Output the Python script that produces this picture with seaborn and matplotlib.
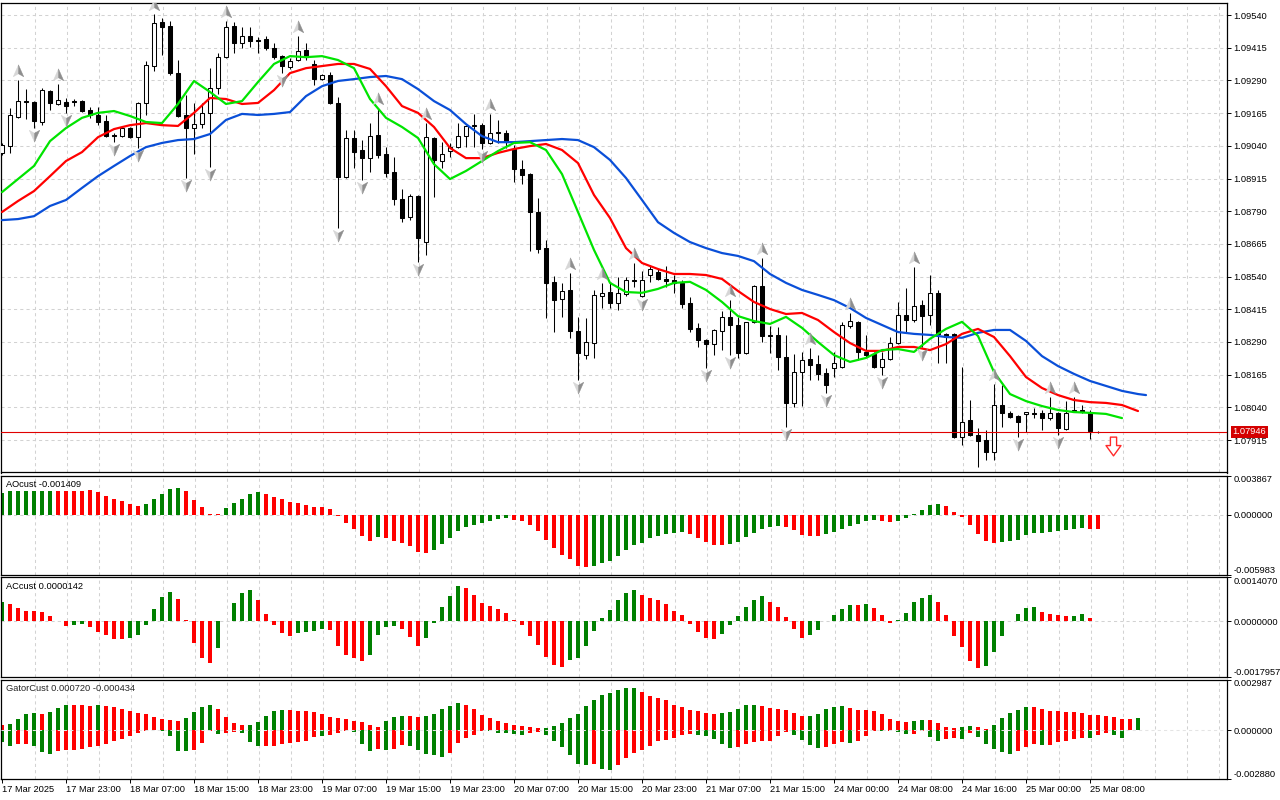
import matplotlib
matplotlib.use("Agg")
import matplotlib.pyplot as plt
import seaborn as sns
import numpy as np
from matplotlib.path import Path
from matplotlib.markers import MarkerStyle
from matplotlib.transforms import offset_copy, blended_transform_factory

# ---------------- data (EURUSD H1) ----------------
opens = [1.09013, 1.09039, 1.09150, 1.09211, 1.09207, 1.09131, 1.09249, 1.09200, 1.09207, 1.09211,
         1.09211, 1.09177, 1.09158, 1.09135, 1.09081, 1.09077, 1.09108, 1.09073, 1.09204, 1.09345,
         1.09513, 1.09498, 1.09318, 1.09158, 1.09108, 1.09123, 1.09166, 1.09261, 1.09379, 1.09498,
         1.09433, 1.09460, 1.09444, 1.09448, 1.09414, 1.09383, 1.09341, 1.09368, 1.09406, 1.09352,
         1.09295, 1.09311, 1.09204, 1.08921, 1.09070, 1.09024, 1.08993, 1.09081, 1.09009, 1.08940,
         1.08837, 1.08768, 1.08848, 1.08672, 1.09070, 1.08982, 1.09020, 1.09035, 1.09077, 1.09115,
         1.09119, 1.09051, 1.09093, 1.09089, 1.09028, 1.08951, 1.08932, 1.08787, 1.08649, 1.08520,
         1.08454, 1.08489, 1.08332, 1.08240, 1.08286, 1.08466, 1.08481, 1.08439, 1.08473, 1.08527,
         1.08466, 1.08546, 1.08557, 1.08531, 1.08527, 1.08516, 1.08439, 1.08344, 1.08298, 1.08282,
         1.08332, 1.08386, 1.08355, 1.08248, 1.08367, 1.08504, 1.08317, 1.08317, 1.08233, 1.08057,
         1.08175, 1.08225, 1.08206, 1.08171, 1.08191, 1.08194, 1.08351, 1.08367, 1.08252, 1.08244,
         1.08194, 1.08225, 1.08286, 1.08393, 1.08374, 1.08431, 1.08393, 1.08477, 1.08321, 1.08321,
         1.07927, 1.07992, 1.07935, 1.07915, 1.07870, 1.08049, 1.08019, 1.08007, 1.08015, 1.08019,
         1.08019, 1.07999, 1.08019, 1.07958, 1.08030, 1.08030, 1.08022, 1.07946]
highs = [1.09051, 1.09185, 1.09291, 1.09257, 1.09211, 1.09261, 1.09253, 1.09276, 1.09223, 1.09219,
         1.09215, 1.09188, 1.09188, 1.09158, 1.09089, 1.09112, 1.09112, 1.09207, 1.09364, 1.09544,
         1.09529, 1.09517, 1.09368, 1.09234, 1.09204, 1.09204, 1.09337, 1.09394, 1.09517, 1.09513,
         1.09494, 1.09494, 1.09456, 1.09460, 1.09433, 1.09387, 1.09375, 1.09460, 1.09433, 1.09368,
         1.09314, 1.09322, 1.09227, 1.09100, 1.09100, 1.09062, 1.09127, 1.09185, 1.09035, 1.08997,
         1.08875, 1.08856, 1.08852, 1.09127, 1.09073, 1.09054, 1.09051, 1.09127, 1.09119, 1.09162,
         1.09127, 1.09162, 1.09139, 1.09100, 1.09043, 1.08986, 1.08936, 1.08841, 1.08680, 1.08542,
         1.08516, 1.08554, 1.08386, 1.08382, 1.08489, 1.08516, 1.08516, 1.08539, 1.08539, 1.08592,
         1.08561, 1.08584, 1.08569, 1.08580, 1.08546, 1.08527, 1.08462, 1.08363, 1.08302, 1.08340,
         1.08408, 1.08450, 1.08386, 1.08367, 1.08508, 1.08611, 1.08351, 1.08347, 1.08317, 1.08244,
         1.08252, 1.08267, 1.08240, 1.08191, 1.08252, 1.08367, 1.08401, 1.08370, 1.08317, 1.08252,
         1.08252, 1.08309, 1.08443, 1.08496, 1.08577, 1.08450, 1.08546, 1.08489, 1.08325, 1.08325,
         1.08194, 1.08068, 1.07962, 1.07954, 1.08130, 1.08126, 1.08026, 1.08011, 1.08022, 1.08038,
         1.08030, 1.08080, 1.08022, 1.08064, 1.08080, 1.08049, 1.08030, 1.07950]
lows = [1.09005, 1.09013, 1.09147, 1.09143, 1.09108, 1.09119, 1.09177, 1.09196, 1.09166, 1.09192,
        1.09169, 1.09147, 1.09119, 1.09073, 1.09054, 1.09073, 1.09070, 1.09032, 1.09158, 1.09326,
        1.09387, 1.09311, 1.09150, 1.08917, 1.09009, 1.09108, 1.08959, 1.09238, 1.09375, 1.09395,
        1.09414, 1.09418, 1.09395, 1.09406, 1.09372, 1.09318, 1.09334, 1.09364, 1.09368, 1.09272,
        1.09291, 1.09200, 1.08726, 1.08917, 1.08955, 1.08909, 1.08940, 1.08993, 1.08921, 1.08814,
        1.08748, 1.08756, 1.08595, 1.08622, 1.08844, 1.08955, 1.08997, 1.09032, 1.09035, 1.09035,
        1.09028, 1.09047, 1.09051, 1.09032, 1.08902, 1.08894, 1.08638, 1.08630, 1.08382, 1.08328,
        1.08386, 1.08306, 1.08145, 1.08225, 1.08229, 1.08420, 1.08420, 1.08412, 1.08466, 1.08501,
        1.08462, 1.08520, 1.08527, 1.08501, 1.08477, 1.08420, 1.08328, 1.08271, 1.08191, 1.08240,
        1.08259, 1.08240, 1.08229, 1.08244, 1.08363, 1.08290, 1.08248, 1.08183, 1.07965, 1.08042,
        1.08045, 1.08145, 1.08145, 1.08095, 1.08156, 1.08191, 1.08344, 1.08221, 1.08233, 1.08191,
        1.08164, 1.08221, 1.08282, 1.08328, 1.08367, 1.08271, 1.08355, 1.08210, 1.08210, 1.07923,
        1.07896, 1.07931, 1.07812, 1.07839, 1.07839, 1.07965, 1.07999, 1.07927, 1.07946, 1.07999,
        1.07954, 1.07992, 1.07935, 1.07954, 1.08022, 1.08019, 1.07919, 1.07942]
closes = [1.09043, 1.09158, 1.09211, 1.09207, 1.09135, 1.09253, 1.09204, 1.09215, 1.09192, 1.09207,
          1.09173, 1.09158, 1.09131, 1.09077, 1.09077, 1.09108, 1.09073, 1.09204, 1.09349, 1.09510,
          1.09494, 1.09318, 1.09154, 1.09108, 1.09123, 1.09166, 1.09261, 1.09379, 1.09494, 1.09433,
          1.09460, 1.09440, 1.09440, 1.09414, 1.09379, 1.09345, 1.09364, 1.09402, 1.09379, 1.09295,
          1.09311, 1.09204, 1.08921, 1.09070, 1.09016, 1.08993, 1.09077, 1.09005, 1.08936, 1.08837,
          1.08764, 1.08848, 1.08688, 1.09073, 1.08986, 1.09009, 1.09035, 1.09077, 1.09115, 1.09119,
          1.09051, 1.09089, 1.09089, 1.09054, 1.08951, 1.08928, 1.08787, 1.08645, 1.08516, 1.08450,
          1.08485, 1.08332, 1.08248, 1.08290, 1.08470, 1.08477, 1.08439, 1.08477, 1.08527, 1.08523,
          1.08527, 1.08569, 1.08531, 1.08523, 1.08516, 1.08435, 1.08340, 1.08298, 1.08282, 1.08336,
          1.08386, 1.08355, 1.08248, 1.08367, 1.08504, 1.08313, 1.08313, 1.08233, 1.08057, 1.08175,
          1.08221, 1.08202, 1.08168, 1.08126, 1.08210, 1.08355, 1.08370, 1.08252, 1.08240, 1.08194,
          1.08225, 1.08286, 1.08393, 1.08374, 1.08427, 1.08389, 1.08477, 1.08321, 1.08309, 1.07927,
          1.07984, 1.07935, 1.07912, 1.07870, 1.08049, 1.08019, 1.08003, 1.07984, 1.08022, 1.08015,
          1.07999, 1.08019, 1.07962, 1.08019, 1.08022, 1.08022, 1.07950, 1.07946]

# Alligator lines, read every second bar (jaw / teeth / lips)
jaw_bars = list(range(0, 143, 2)) + [143]
jaw = [1.08756, 1.08760, 1.08771, 1.08810, 1.08833, 1.08879, 1.08924, 1.08963, 1.09001, 1.09035,
       1.09051, 1.09062, 1.09066, 1.09085, 1.09139, 1.09162, 1.09158, 1.09162, 1.09169, 1.09230,
       1.09268, 1.09288, 1.09295, 1.09303, 1.09307, 1.09295, 1.09257, 1.09211, 1.09177, 1.09123,
       1.09077, 1.09054, 1.09054, 1.09058, 1.09062, 1.09066, 1.09062, 1.09035, 1.08986, 1.08917,
       1.08833, 1.08748, 1.08707, 1.08672, 1.08649, 1.08630, 1.08619, 1.08599, 1.08550, 1.08516,
       1.08489, 1.08470, 1.08450, 1.08420, 1.08382, 1.08355, 1.08328, 1.08321, 1.08317, 1.08309,
       1.08306, 1.08325, 1.08336, 1.08336, 1.08294, 1.08236, 1.08198, 1.08168, 1.08141, 1.08122,
       1.08103, 1.08091, 1.08087]
teeth_bars = list(range(0, 143, 2))
teeth = [1.08787, 1.08829, 1.08867, 1.08924, 1.08982, 1.09016, 1.09073, 1.09104, 1.09119, 1.09127,
         1.09119, 1.09116, 1.09166, 1.09223, 1.09219, 1.09200, 1.09204, 1.09253, 1.09318, 1.09337,
         1.09345, 1.09353, 1.09353, 1.09334, 1.09268, 1.09192, 1.09166, 1.09112, 1.09032, 1.08993,
         1.08993, 1.09013, 1.09028, 1.09039, 1.09047, 1.09024, 1.08974, 1.08852, 1.08764, 1.08649,
         1.08592, 1.08569, 1.08550, 1.08550, 1.08546, 1.08531, 1.08485, 1.08443, 1.08416, 1.08397,
         1.08401, 1.08374, 1.08328, 1.08286, 1.08256, 1.08256, 1.08271, 1.08271, 1.08259, 1.08282,
         1.08321, 1.08340, 1.08309, 1.08236, 1.08156, 1.08114, 1.08087, 1.08068, 1.08060, 1.08057,
         1.08049, 1.08026]
lips_bars = list(range(0, 141, 2))
lips = [1.08863, 1.08913, 1.08963, 1.09058, 1.09108, 1.09147, 1.09166, 1.09173, 1.09154, 1.09131,
        1.09127, 1.09200, 1.09288, 1.09246, 1.09200, 1.09211, 1.09284, 1.09353, 1.09383, 1.09379,
        1.09383, 1.09368, 1.09337, 1.09219, 1.09147, 1.09112, 1.09070, 1.08970, 1.08913, 1.08944,
        1.08982, 1.09020, 1.09051, 1.09054, 1.09024, 1.08932, 1.08787, 1.08642, 1.08516, 1.08481,
        1.08478, 1.08493, 1.08516, 1.08520, 1.08489, 1.08443, 1.08389, 1.08370, 1.08359, 1.08386,
        1.08344, 1.08290, 1.08240, 1.08214, 1.08229, 1.08259, 1.08263, 1.08252, 1.08302, 1.08340,
        1.08367, 1.08313, 1.08175, 1.08091, 1.08064, 1.08045, 1.08030, 1.08022, 1.08019, 1.08015,
        1.07999]

fractal_up_bars = [2, 7, 19, 28, 37, 47, 53, 61, 71, 75, 79, 91, 95, 101, 106, 114, 124, 131, 134]
fractal_down_bars = [4, 8, 14, 17, 23, 26, 35, 42, 45, 52, 60, 72, 80, 88, 91, 98, 103, 110, 115, 127, 132]
sell_signal_bar = [138.9]
sell_signal_price = [1.07892]
current_price = 1.07946

price_ticks = [1.09540, 1.09415, 1.09290, 1.09165, 1.09040, 1.08915, 1.08790,
               1.08665, 1.08540, 1.08415, 1.08290, 1.08165, 1.08040, 1.07915]

ao = [0.00215, 0.00238, 0.00238, 0.00238, 0.00238, 0.00238, 0.00238, 0.00238, 0.00238, 0.00238,
      0.00238, 0.00240, 0.00222, 0.00189, 0.00159, 0.00132, 0.00106, 0.00089, 0.00109, 0.00159,
      0.00209, 0.00258, 0.00265, 0.00238, 0.00149, 0.00079, 0.00010, 0.00009, 0.00070, 0.00119,
      0.00159, 0.00209, 0.00222, 0.00209, 0.00179, 0.00159, 0.00129, 0.00119, 0.00099, 0.00079,
      0.00078, 0.00060, -0.00017, -0.00086, -0.00146, -0.00209, -0.00255, -0.00225, -0.00232, -0.00255,
      -0.00275, -0.00314, -0.00364, -0.00374, -0.00344, -0.00285, -0.00235, -0.00166, -0.00126, -0.00106,
      -0.00086, -0.00066, -0.00046, -0.00036, -0.00056, -0.00066, -0.00106, -0.00166, -0.00245, -0.00324,
      -0.00394, -0.00434, -0.00503, -0.00513, -0.00503, -0.00473, -0.00453, -0.00404, -0.00344, -0.00295,
      -0.00275, -0.00235, -0.00209, -0.00189, -0.00185, -0.00175, -0.00195, -0.00235, -0.00265, -0.00295,
      -0.00296, -0.00285, -0.00265, -0.00225, -0.00185, -0.00146, -0.00126, -0.00116, -0.00126, -0.00156,
      -0.00205, -0.00206, -0.00207, -0.00195, -0.00175, -0.00146, -0.00116, -0.00096, -0.00066, -0.00056,
      -0.00066, -0.00076, -0.00066, -0.00036, 0.00007, 0.00050, 0.00099, 0.00109, 0.00089, 0.00030,
      -0.00026, -0.00106, -0.00195, -0.00255, -0.00275, -0.00265, -0.00255, -0.00245, -0.00205, -0.00185,
      -0.00184, -0.00175, -0.00166, -0.00152, -0.00146, -0.00136, -0.00137, -0.001409]
ao_color_runs = [("g", 7), ("r", 11), ("g", 5), ("r", 5), ("g", 5), ("r", 14), ("g", 1), ("r", 6),
                 ("g", 10), ("r", 10), ("g", 12), ("r", 5), ("g", 7), ("r", 5), ("g", 7), ("r", 2),
                 ("g", 6), ("r", 7), ("g", 11), ("r", 2)]

ac = [0.00060, 0.00055, 0.00042, 0.00033, 0.00032, 0.00029, 0.00016, -0.00001, -0.00015, -0.00012,
      -0.00011, -0.00018, -0.00034, -0.00044, -0.00057, -0.00058, -0.00053, -0.00044, -0.00012, 0.00039,
      0.00077, 0.00093, 0.00071, 0.00003, -0.00071, -0.00118, -0.00134, -0.00086, 0.00001, 0.00058,
      0.00090, 0.00100, 0.00068, 0.00023, -0.00012, -0.00038, -0.00047, -0.00038, -0.00034, -0.00033,
      -0.00025, -0.00028, -0.00079, -0.00108, -0.00118, -0.00128, -0.00108, -0.00044, -0.00018, -0.00015,
      -0.00025, -0.00050, -0.00079, -0.00054, -0.00005, 0.00045, 0.00081, 0.00113, 0.00106, 0.00084,
      0.00058, 0.00048, 0.00039, 0.00026, 0.00003, -0.00012, -0.00047, -0.00076, -0.00115, -0.00141,
      -0.00147, -0.00125, -0.00118, -0.00079, -0.00031, 0.00010, 0.00035, 0.00068, 0.00090, 0.00100,
      0.00084, 0.00074, 0.00068, 0.00055, 0.00032, 0.00019, -0.00009, -0.00034, -0.00054, -0.00057,
      -0.00041, -0.00012, 0.00016, 0.00045, 0.00068, 0.00081, 0.00061, 0.00045, 0.00013, -0.00025,
      -0.00054, -0.00044, -0.00028, 0.00001, 0.00019, 0.00039, 0.00052, 0.00051, 0.00055, 0.00042,
      0.00019, -0.00005, 0.00003, 0.00026, 0.00061, 0.00074, 0.00084, 0.00061, 0.00019, -0.00047,
      -0.00083, -0.00128, -0.00150, -0.00144, -0.00099, -0.00047, 0.00000, 0.00023, 0.00042, 0.00045,
      0.00029, 0.00023, 0.00019, 0.00016, 0.00017, 0.00023, 0.00010, 0.0000142]
ac_color_runs = [("g", 1), ("r", 8), ("g", 2), ("r", 5), ("g", 6), ("r", 5), ("g", 5), ("r", 5),
                 ("g", 4), ("r", 5), ("g", 4), ("r", 3), ("g", 5), ("r", 13), ("g", 9), ("r", 10),
                 ("g", 6), ("r", 5), ("g", 6), ("r", 1), ("g", 1), ("r", 3), ("g", 5), ("r", 6),
                 ("g", 7), ("r", 4), ("g", 2), ("r", 2)]

gator_up = [0.00032, 0.00035, 0.00065, 0.00097, 0.00100, 0.00095, 0.00106, 0.00130, 0.00148, 0.00147,
            0.00146, 0.00145, 0.00146, 0.00142, 0.00136, 0.00124, 0.00112, 0.00100, 0.00095, 0.00077,
            0.00065, 0.00059, 0.00053, 0.00071, 0.00106, 0.00136, 0.00148, 0.00124, 0.00077, 0.00043,
            0.00030, 0.00031, 0.00047, 0.00083, 0.00112, 0.00118, 0.00117, 0.00112, 0.00111, 0.00106,
            0.00095, 0.00077, 0.00071, 0.00065, 0.00053, 0.00047, 0.00032, 0.00018, 0.00053, 0.00077,
            0.00083, 0.00082, 0.00077, 0.00083, 0.00095, 0.00124, 0.00142, 0.00160, 0.00148, 0.00124,
            0.00089, 0.00071, 0.00053, 0.00041, 0.00030, 0.00024, 0.00018, 0.00012, 0.00013, 0.00024,
            0.00041, 0.00071, 0.00095, 0.00142, 0.00177, 0.00207, 0.00219, 0.00236, 0.00248, 0.00249,
            0.00225, 0.00201, 0.00189, 0.00177, 0.00148, 0.00136, 0.00118, 0.00112, 0.00100, 0.00095,
            0.00100, 0.00106, 0.00124, 0.00148, 0.00149, 0.00142, 0.00130, 0.00124, 0.00118, 0.00100,
            0.00083, 0.00084, 0.00095, 0.00124, 0.00136, 0.00142, 0.00130, 0.00118, 0.00117, 0.00112,
            0.00095, 0.00065, 0.00053, 0.00047, 0.00053, 0.00059, 0.00058, 0.00041, 0.00018, 0.00012,
            0.00018, 0.00024, 0.00018, 0.00006, 0.00030, 0.00071, 0.00100, 0.00118, 0.00136, 0.00135,
            0.00124, 0.00112, 0.00111, 0.00110, 0.00106, 0.00100, 0.00089, 0.00088, 0.00083, 0.00077,
            0.00065, 0.00064, 0.00072]
gator_up_color_runs = [("r", 1), ("g", 4), ("r", 1), ("g", 3), ("r", 3), ("g", 1), ("r", 10), ("g", 4),
                       ("r", 4), ("g", 5), ("r", 12), ("g", 3), ("r", 2), ("g", 5), ("r", 10), ("g", 12),
                       ("r", 10), ("g", 5), ("r", 6), ("g", 5), ("r", 8), ("g", 2), ("r", 4), ("g", 2),
                       ("r", 2), ("g", 5), ("r", 13), ("g", 1)]
gator_dn = [-0.00069, -0.00093, -0.00081, -0.00080, -0.00093, -0.00128, -0.00140, -0.00122, -0.00116, -0.00115,
            -0.00114, -0.00098, -0.00093, -0.00081, -0.00063, -0.00051, -0.00033, -0.00016, -0.00004, -0.00002,
            -0.00006, -0.00033, -0.00122, -0.00123, -0.00116, -0.00075, -0.00004, -0.00022, -0.00016, -0.00010,
            -0.00016, -0.00069, -0.00093, -0.00092, -0.00091, -0.00081, -0.00075, -0.00069, -0.00063, -0.00039,
            -0.00033, -0.00028, -0.00016, -0.00004, -0.00010, -0.00081, -0.00122, -0.00112, -0.00116, -0.00110,
            -0.00087, -0.00093, -0.00116, -0.00140, -0.00146, -0.00158, -0.00134, -0.00075, -0.00045, -0.00028,
            -0.00004, -0.00005, -0.00016, -0.00016, -0.00022, -0.00028, -0.00016, -0.00010, -0.00028, -0.00063,
            -0.00098, -0.00146, -0.00199, -0.00205, -0.00199, -0.00228, -0.00234, -0.00205, -0.00163, -0.00134,
            -0.00116, -0.00093, -0.00063, -0.00057, -0.00045, -0.00028, -0.00022, -0.00028, -0.00033, -0.00051,
            -0.00081, -0.00104, -0.00098, -0.00081, -0.00069, -0.00063, -0.00062, -0.00033, -0.00010, -0.00028,
            -0.00057, -0.00087, -0.00104, -0.00098, -0.00081, -0.00069, -0.00075, -0.00063, -0.00033, -0.00004,
            -0.00005, -0.00004, -0.00010, -0.00022, -0.00021, -0.00004, -0.00039, -0.00063, -0.00051, -0.00045,
            -0.00051, -0.00016, -0.00039, -0.00081, -0.00110, -0.00128, -0.00140, -0.00122, -0.00098, -0.00081,
            -0.00087, -0.00086, -0.00069, -0.00063, -0.00051, -0.00045, -0.00046, -0.00028, -0.00016, -0.00028,
            -0.000434]
gator_dn_color_runs = [("g", 2), ("r", 2), ("g", 3), ("r", 13), ("g", 4), ("r", 3), ("g", 1), ("r", 2),
                       ("g", 3), ("r", 7), ("g", 1), ("r", 3), ("g", 3), ("r", 1), ("g", 1), ("r", 2),
                       ("g", 5), ("r", 5), ("g", 5), ("r", 2), ("g", 6), ("r", 1), ("g", 2), ("r", 10),
                       ("g", 5), ("r", 7), ("g", 4), ("r", 3), ("g", 1), ("r", 3), ("g", 1), ("r", 1),
                       ("g", 2), ("r", 2), ("g", 2), ("r", 2), ("g", 1), ("r", 1), ("g", 5), ("r", 3),
                       ("g", 1), ("r", 5), ("g", 1), ("r", 2), ("g", 2)]

ao_range = (-0.005983, 0.003867)
ac_range = (-0.0017957, 0.0014070)
gator_range = (-0.002880, 0.002987)

date_bars = [0, 8, 16, 24, 32, 40, 48, 56, 64, 72, 80, 88, 96, 104, 112, 120, 128, 136]
date_labels = ["17 Mar 2025", "17 Mar 23:00", "18 Mar 07:00", "18 Mar 15:00", "18 Mar 23:00",
               "19 Mar 07:00", "19 Mar 15:00", "19 Mar 23:00", "20 Mar 07:00", "20 Mar 15:00",
               "20 Mar 23:00", "21 Mar 07:00", "21 Mar 15:00", "24 Mar 00:00", "24 Mar 08:00",
               "24 Mar 16:00", "25 Mar 00:00", "25 Mar 08:00"]

# ---------------- style ----------------
sns.set_theme(style="white")
plt.rcParams['font.family'] = ['Liberation Sans', 'DejaVu Sans']
FS = 6.7
GREEN, RED = '#008000', '#ff0000'
GRID = '#d2d2d2'
DASH = (0, (3, 3))


def expand(runs):
    return [GREEN if c == "g" else RED for c, k in runs for _ in range(k)]


fig = plt.figure(figsize=(12.8, 8), dpi=100)
W, H = 1280.0, 800.0


def rect(l, t, r, b):
    return [l / W, 1 - b / H, (r - l) / W, (b - t) / H]


ax = fig.add_axes(rect(1, 2.5, 1227, 472.5))
ax_ao = fig.add_axes(rect(1, 475.5, 1227, 575.3))
ax_ac = fig.add_axes(rect(1, 577.3, 1227, 676.9))
ax_gt = fig.add_axes(rect(1, 679.5, 1227, 779))

XL = (-0.125, 153.125)
for a in (ax, ax_ao, ax_ac, ax_gt):
    a.set_facecolor('white')
    for s in a.spines.values():
        s.set_color('black')
        s.set_linewidth(0.9)
    for k in range(4, 153, 4):
        a.axvline(k + 0.1, color=GRID, lw=0.75, ls=DASH, zorder=0)
    a.yaxis.tick_right()
    a.tick_params(axis='y', which='both', direction='out', length=3, width=0.7,
                  pad=1.5, labelsize=FS, colors='black', right=True, left=False)
    a.tick_params(axis='x', bottom=False, labelbottom=False)
    a.grid(False)

# ---------------- main price chart ----------------
n = len(opens)
xb = np.arange(n)
o = np.array(opens); c = np.array(closes); hi = np.array(highs); lo = np.array(lows)
for p in price_ticks:
    ax.axhline(p, color=GRID, lw=0.75, ls=DASH, zorder=0)

ax.vlines(xb, lo, hi, color='black', lw=0.75, zorder=2)
bull = c > o
ax.bar(xb, np.maximum(np.abs(c - o), 0.000004), bottom=np.minimum(o, c), width=0.56,
       color=np.where(bull, 'white', 'black'), edgecolor='black', linewidth=0.75, zorder=3)

sns.lineplot(x=jaw_bars, y=jaw, ax=ax, color='#0a4fd8', linewidth=1.6, zorder=4, legend=False)
sns.lineplot(x=teeth_bars, y=teeth, ax=ax, color='#ff0000', linewidth=1.6, zorder=4, legend=False)
sns.lineplot(x=lips_bars, y=lips, ax=ax, color='#00e400', linewidth=1.6, zorder=4, legend=False)

# fractal arrows (two-tone arrowheads)
C = [Path.MOVETO, Path.LINETO, Path.LINETO, Path.CLOSEPOLY]
up_left = Path([(0, 1), (0, -0.35), (-0.8, -0.8), (0, 1)], C)
up_right = Path([(0, 1), (0.8, -0.8), (0, -0.35), (0, 1)], C)
dn_left = Path([(0, -1), (0, 0.35), (-0.8, 0.8), (0, -1)], C)
dn_right = Path([(0, -1), (0.8, 0.8), (0, 0.35), (0, -1)], C)
tr_up = offset_copy(ax.transData, fig=fig, x=0, y=9, units='dots')
tr_dn = offset_copy(ax.transData, fig=fig, x=0, y=-7, units='dots')
fu = np.array(fractal_up_bars); fd = np.array(fractal_down_bars)
for pth, col in ((up_left, '#d6d6d6'), (up_right, '#8e8e8e')):
    ax.plot(fu, hi[fu], ls='none', marker=MarkerStyle(pth), ms=9.5, mfc=col, mec=col,
            mew=0.3, transform=tr_up, zorder=5)
for pth, col in ((dn_left, '#d6d6d6'), (dn_right, '#8e8e8e')):
    ax.plot(fd, lo[fd], ls='none', marker=MarkerStyle(pth), ms=9.5, mfc=col, mec=col,
            mew=0.3, transform=tr_dn, zorder=5)

# current price line + label
ax.axhline(current_price, color='#e00000', lw=0.8, zorder=3)
btr = blended_transform_factory(ax.transAxes, ax.transData)
ax.text(1.0043, current_price, f"{current_price:.5f}", transform=btr, ha='left', va='center',
        fontsize=FS, color='white', zorder=10, clip_on=False,
        bbox=dict(boxstyle='square,pad=0.18', fc='#d40000', ec='none'))

# sell signal arrow (hollow red)
sell_path = Path([(-0.33, 1), (0.33, 1), (0.33, 0.1), (0.8, 0.1), (0, -1), (-0.8, 0.1),
                  (-0.33, 0.1), (-0.33, 1)],
                 [Path.MOVETO] + [Path.LINETO] * 6 + [Path.CLOSEPOLY])
ax.plot(sell_signal_bar, sell_signal_price, ls='none', marker=MarkerStyle(sell_path), ms=13.5,
        mfc='white', mec='#ff2a2a', mew=1.0, zorder=6)

ax.set_xlim(*XL)
ax.set_ylim(1.07791, 1.09588)
ax.set_yticks(price_ticks)
ax.set_yticklabels([f"{p:.5f}" for p in price_ticks])
ax.set_xlabel(''); ax.set_ylabel('')

# ---------------- indicator panels ----------------
def panel(a, values, colors, rng, fmt, title, zero_top=False):
    idx = np.arange(len(values))
    a.bar(idx, values, width=0.5, color=colors, linewidth=0, zorder=2)
    a.axhline(0, color='#dcdcdc' if zero_top else GRID, lw=0.75, ls=DASH,
              zorder=3 if zero_top else 1)
    a.set_xlim(*XL)
    a.set_ylim(rng[0], rng[1])
    a.set_yticks([rng[1], 0.0, rng[0]])
    a.set_yticklabels([fmt.format(rng[1]), fmt.format(0.0), fmt.format(rng[0])])
    labs = a.get_yticklabels()
    labs[0].set_va('top')
    labs[2].set_va('bottom')
    a.text(0.004, 0.907, title, transform=a.transAxes, fontsize=FS, ha='left', va='center',
           color='black', zorder=10)


panel(ax_ao, ao, expand(ao_color_runs), ao_range, "{:.6f}", f"AOcust {ao[-1]:.6f}")
panel(ax_ac, ac, expand(ac_color_runs), ac_range, "{:.7f}", f"ACcust {ac[-1]:.7f}")

gidx_up = np.arange(len(gator_up))
gidx_dn = np.arange(len(gator_dn))
ax_gt.bar(gidx_up, gator_up, width=0.5, color=expand(gator_up_color_runs), linewidth=0, zorder=2)
ax_gt.bar(gidx_dn, gator_dn, width=0.5, color=expand(gator_dn_color_runs), linewidth=0, zorder=2)
ax_gt.axhline(0, color='#e4e4e4', lw=0.75, ls=DASH, zorder=3)
ax_gt.set_xlim(*XL)
ax_gt.set_ylim(*gator_range)
ax_gt.set_yticks([gator_range[1], 0.0, gator_range[0]])
ax_gt.set_yticklabels([f"{gator_range[1]:.6f}", f"{0.0:.6f}", f"{gator_range[0]:.6f}"])
gl = ax_gt.get_yticklabels()
gl[0].set_va('top'); gl[2].set_va('bottom')
ax_gt.text(0.004, 0.907, f"GatorCust {gator_up[-1]:.6f} {gator_dn[-1]:.6f}",
           transform=ax_gt.transAxes, fontsize=FS, ha='left', va='center', zorder=10)

ax_gt.set_xticks(date_bars)
ax_gt.set_xticklabels(date_labels, ha='left')
ax_gt.tick_params(axis='x', bottom=True, labelbottom=True, direction='out', length=3,
                  width=0.7, pad=1.5, labelsize=FS, colors='black')

fig.savefig("out.png", dpi=100, facecolor='white')
